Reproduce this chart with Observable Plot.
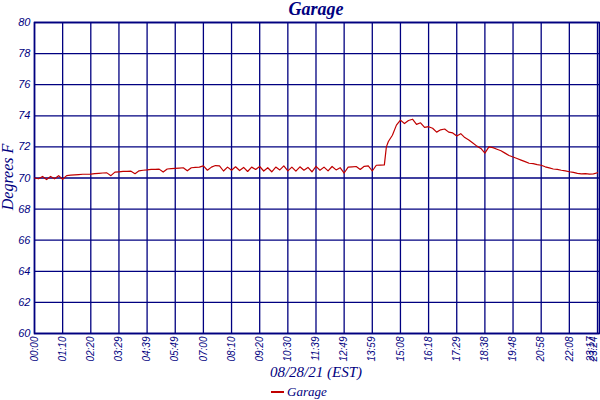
<!DOCTYPE html>
<html>
<head>
<meta charset="utf-8">
<script src="https://cdn.jsdelivr.net/npm/d3@7"></script>
<script src="https://cdn.jsdelivr.net/npm/@observablehq/plot@0.6"></script>
<style>
  html, body { margin: 0; padding: 0; background: #fff; }
  #chart { width: 600px; height: 400px; }
</style>
</head>
<body>
<div id="chart"></div>
<script>
// Minutes after midnight on 08/28/21 (EST) for each reading
const minutes = [0,10,20,30,40,50,60,70,80,90,100,110,120,130,140,150,160,170,180,190,
  200,210,220,230,240,250,260,270,280,290,300,310,320,330,340,350,360,370,380,390,
  400,410,420,430,440,450,460,470,480,490,500,510,520,530,540,550,560,570,580,590,
  600,610,620,630,640,650,660,670,680,690,700,710,720,730,740,750,760,770,780,790,
  800,810,820,830,840,850,860,870,875,880,890,900,910,920,930,940,950,960,970,980,990,
  1000,1010,1020,1030,1040,1050,1060,1070,1080,1090,1100,1110,1120,1130,1140,1150,1160,1170,1180,1190,
  1200,1210,1220,1230,1240,1250,1260,1270,1280,1290,1300,1310,1320,1330,1340,1350,1360,1370,1380,1390,1400];

// Garage temperature, degrees F
const garage = [70.00,69.95,70.10,69.90,70.10,69.95,70.15,69.92,70.15,70.18,
  70.20,70.22,70.24,70.24,70.25,70.28,70.30,70.32,70.33,70.15,
  70.38,70.40,70.42,70.42,70.44,70.28,70.46,70.50,70.52,70.55,
  70.55,70.57,70.38,70.58,70.60,70.62,70.64,70.66,70.46,70.66,
  70.68,70.70,70.78,70.50,70.70,70.80,70.78,70.45,70.70,70.50,
  70.72,70.48,70.68,70.42,70.70,70.55,70.74,70.45,70.66,70.40,
  70.70,70.52,70.78,70.46,70.70,70.44,70.72,70.50,70.68,70.40,
  70.75,70.50,70.70,70.46,70.74,70.52,70.66,70.32,70.70,70.72,
  70.74,70.55,70.75,70.78,70.45,70.82,70.83,70.84,72.00,72.35,72.75,
  73.40,73.72,73.50,73.70,73.78,73.45,73.55,73.25,73.30,73.20,
  72.95,73.10,73.15,72.95,72.90,72.70,72.85,72.60,72.45,72.25,
  72.05,71.90,71.60,72.00,71.95,71.85,71.75,71.60,71.45,71.35,
  71.25,71.15,71.05,70.95,70.92,70.86,70.82,70.72,70.65,70.58,
  70.55,70.50,70.46,70.40,70.36,70.30,70.26,70.28,70.25,70.27,70.34];

// X tick positions (minutes) and their labels
const xTicks = [0,70,140,210,280,350,420,490,560,630,700,770,840,910,980,1050,1120,1190,1260,1330,1400,1405];
const xTickLabels = ["00:00","01:10","02:20","03:29","04:39","05:49","07:00","08:10","09:20","10:30",
  "11:39","12:49","13:59","15:08","16:18","17:29","18:38","19:48","20:58","22:08","23:17","23:24"];
const yTicks = [60,62,64,66,68,70,72,74,76,78,80];

const navy = "#000080";
const red = "#c00000";

const data = minutes.map((m, i) => ({m, t: garage[i]}));
const mainTicks = xTicks.slice(0, -2);
const endTicks = xTicks.slice(-2);

const chart = Plot.plot({
  width: 600,
  height: 400,
  marginTop: 22,
  marginLeft: 34,
  marginRight: 1,
  marginBottom: 67,
  style: {fontFamily: "'Liberation Sans', sans-serif", fontStyle: "italic", fontSize: "10px", color: navy, background: "#fff"},
  x: {domain: [0, 1405]},
  y: {domain: [60, 80]},
  marks: [
    Plot.gridX(xTicks, {stroke: navy, strokeOpacity: 1, strokeWidth: 1.3}),
    Plot.gridY(yTicks, {stroke: navy, strokeOpacity: 1, strokeWidth: 1.3}),
    Plot.frame({stroke: navy, strokeWidth: 1.6}),
    Plot.axisY({ticks: yTicks, tickSize: 0, tickPadding: 4, label: null, fontSize: 11}),
    Plot.axisX({ticks: mainTicks, tickSize: 0, tickPadding: 3, tickRotate: -90, label: null,
      tickFormat: d => xTickLabels[xTicks.indexOf(d)]}),
    Plot.text(endTicks, {x: d => d, frameAnchor: "bottom", text: d => xTickLabels[xTicks.indexOf(d)],
      rotate: -90, textAnchor: "end", dy: 3, dx: -3, fill: navy}),
    Plot.line(data, {x: "m", y: "t", stroke: red, strokeWidth: 1.2})
  ]
});

const svg = d3.select(chart);
const serif = "'Liberation Serif', serif";
svg.append("text").attr("x", 316).attr("y", 15).attr("text-anchor", "middle")
  .attr("font-family", serif).attr("font-style", "italic").attr("font-weight", "bold")
  .attr("font-size", 18).attr("fill", navy).text("Garage");
svg.append("text").attr("transform", "translate(13,177) rotate(-90)").attr("text-anchor", "middle")
  .attr("font-family", serif).attr("font-style", "italic")
  .attr("font-size", 16).attr("fill", navy).text("Degrees F");
svg.append("text").attr("x", 316).attr("y", 377).attr("text-anchor", "middle")
  .attr("font-family", serif).attr("font-style", "italic")
  .attr("font-size", 15).attr("fill", navy).text("08/28/21 (EST)");
svg.append("line").attr("x1", 271).attr("x2", 284).attr("y1", 392).attr("y2", 392)
  .attr("stroke", red).attr("stroke-width", 2);
svg.append("text").attr("x", 287).attr("y", 396).attr("text-anchor", "start")
  .attr("font-family", serif).attr("font-style", "italic")
  .attr("font-size", 13).attr("fill", navy).text("Garage");

document.getElementById("chart").appendChild(chart);
</script>
</body>
</html>
